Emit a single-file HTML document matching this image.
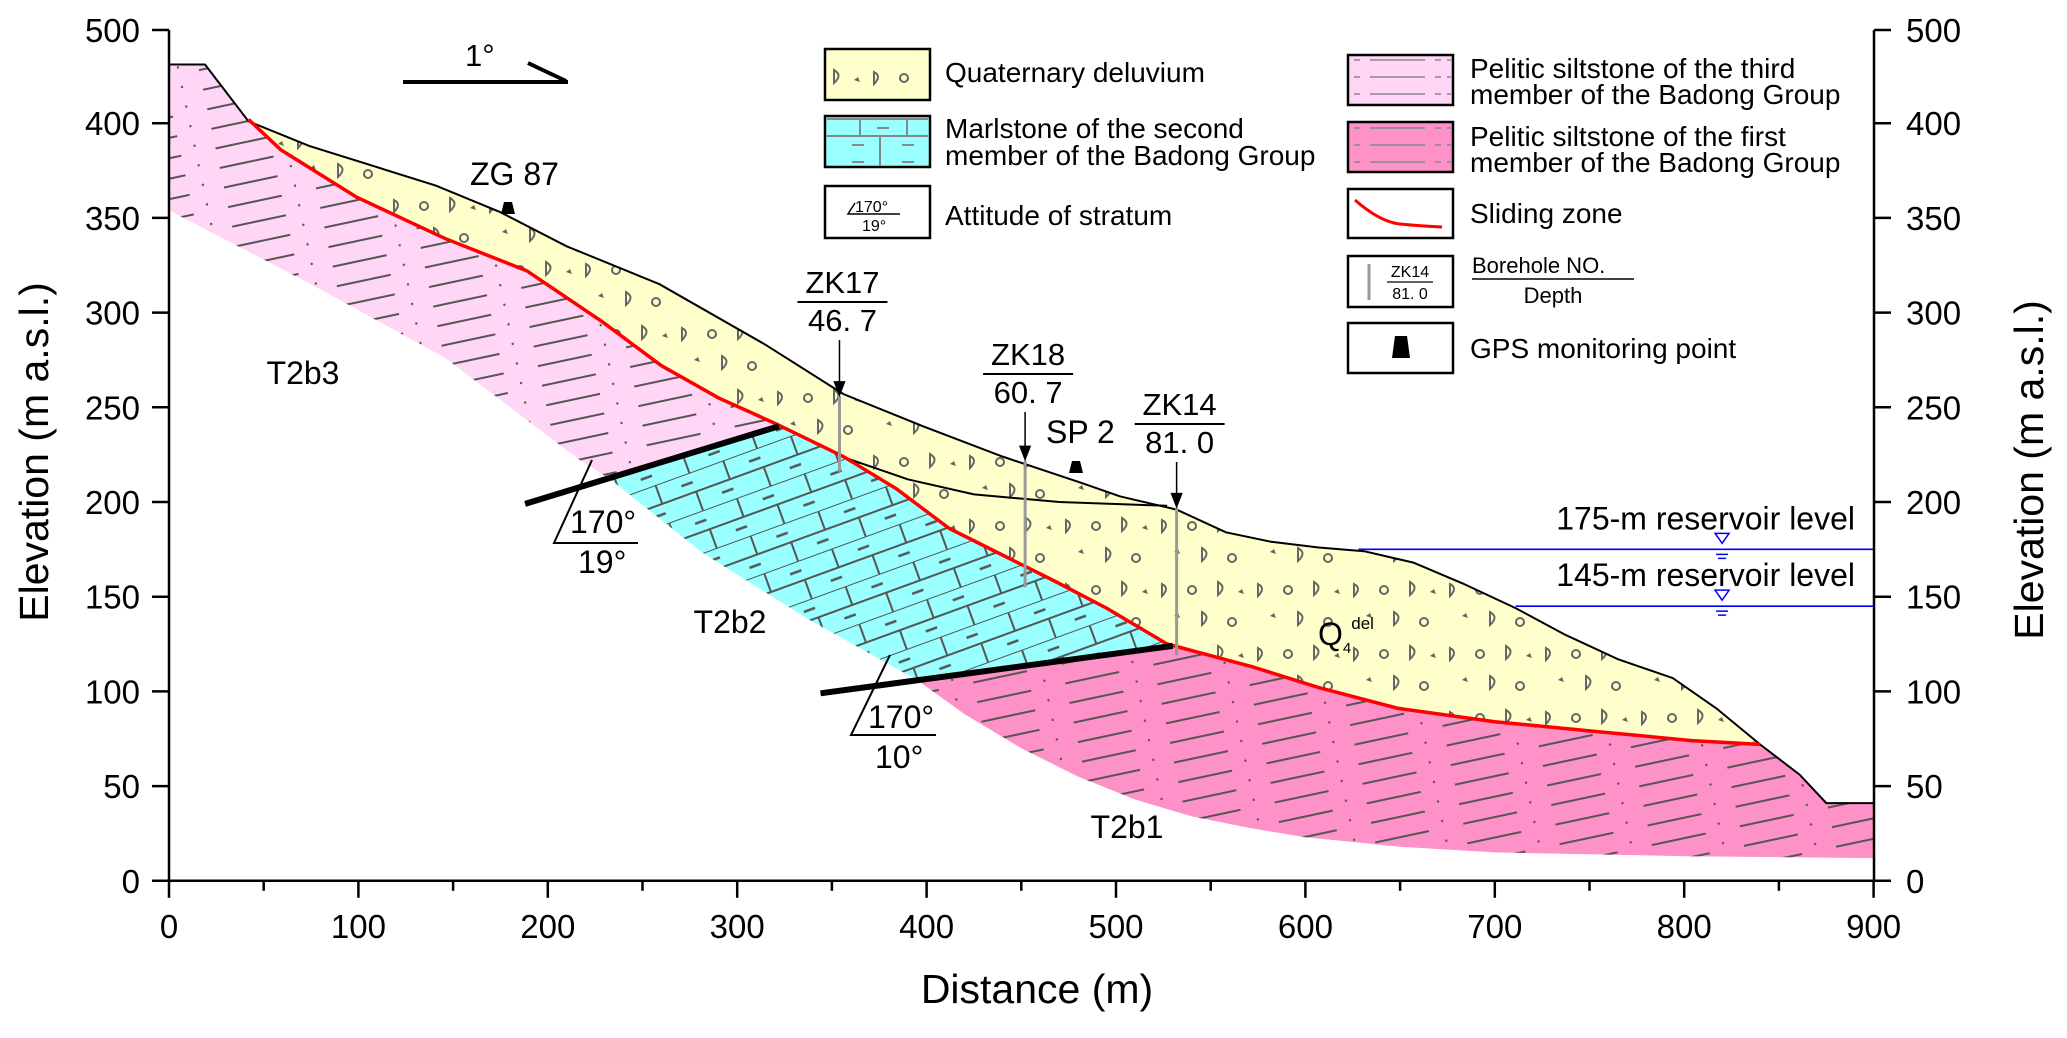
<!DOCTYPE html>
<html><head><meta charset="utf-8"><style>
html,body{margin:0;padding:0;background:#fff;}
svg{display:block;font-family:"Liberation Sans",Arial,sans-serif;}
</style></head><body>
<svg id="chart" width="2067" height="1038" viewBox="0 0 2067 1038" xmlns="http://www.w3.org/2000/svg">
<defs>
<pattern id="patQ" patternUnits="userSpaceOnUse" width="96" height="64">
 <path d="M10 8 q8 4 0 12 z" fill="none" stroke="#666" stroke-width="2"/>
 <circle cx="40" cy="14" r="4" fill="none" stroke="#666" stroke-width="2"/>
 <path d="M66 6 q9 5 0 13 z" fill="none" stroke="#666" stroke-width="2"/>
 <path d="M86 16 l4 -3 l2 5 z" fill="#666"/>
 <path d="M22 40 l4 -3 l2 5 z" fill="#666"/>
 <path d="M50 36 q9 5 0 13 z" fill="none" stroke="#666" stroke-width="2"/>
 <circle cx="80" cy="46" r="4" fill="none" stroke="#666" stroke-width="2"/>
</pattern>
<pattern id="patP" patternUnits="userSpaceOnUse" width="90" height="20" patternTransform="rotate(-12)">
 <line x1="0" y1="10" x2="55" y2="10" stroke="#555" stroke-width="2"/>
 <circle cx="70" cy="3" r="1.2" fill="#555"/>
</pattern>
<pattern id="patB" patternUnits="userSpaceOnUse" width="72" height="40" patternTransform="rotate(-20)">
 <path d="M0 0 H72 M0 20 H72 M18 0 V20 M54 20 V40" stroke="#555" stroke-width="2" fill="none"/>
 <path d="M42 10 H54 M6 30 H18" stroke="#555" stroke-width="2.5"/>
</pattern>
<pattern id="patPL" patternUnits="userSpaceOnUse" width="105" height="17">
 <line x1="5" y1="9" x2="60" y2="9" stroke="#888" stroke-width="1.5"/>
 <line x1="70" y1="9" x2="100" y2="9" stroke="#888" stroke-width="1.5" stroke-dasharray="6 6"/>
</pattern>
<pattern id="patBL" patternUnits="userSpaceOnUse" width="104" height="51">
 <path d="M0 17 H104 M0 34 H104 M48 0 V17 M28 17 V34 M75 17 V34 M48 34 V51" stroke="#888" stroke-width="2" fill="none"/>
 <path d="M20 9 H32 M70 9 H82 M45 26 H57 M20 43 H32 M70 43 H82" stroke="#888" stroke-width="2"/>
</pattern>
</defs>
<g id="plot"></g>
</svg>
<script>
// ---- data (distance m, elevation m) ----
const groundD = [0,19,42,74,141,175,210,259,315,356,398,440,482,502,532,558,582,607,631,657,683,711,737,765,794,817,840,861,875,900];
const groundE = [431,431,401,388,367,353,335,315,283,257,240,224,210,203,196,184,179,176,174,168,157,144,130,117,107,91,72,56,41,41];
const slideD = [42,59,99,146,189,229,260,290,321,356,384,412,440,468,495,527,572,607,649,700,752,804,840];
const slideE = [402,386,361,339,322,295,272,255,241,224,207,186,172,158,144,125,113,102,91,84,79,74,72];
const t2b3BaseD = [0,75,146,217,233];
const t2b3BaseE = [354,315,276,222,212];
const t2b2EdgeD = [233,282,336,395];
const t2b2EdgeE = [212,173,139,106];
const t2b1BaseD = [395,420,450,480,510,540,570,600,650,700,800,900];
const t2b1BaseE = [106,88,70,55,43,34,28,23,18,15,13,12];
const innerD = [358,390,425,470,527];
const innerE = [223,212,204,200,198];
const contact1D = [188,322], contact1E = [199,240];
const contact2D = [344,530], contact2E = [99,124];
const boreNames = ["ZK17","ZK18","ZK14"];
const boreD = [354,452,532];
const boreDepth = ["46. 7","60. 7","81. 0"];
const boreTopE = [256,222,197];
const boreBotE = [216,155,119];
const resLevels = [175,145];
const resStartD = [628,711];
const yTicks = [0,50,100,150,200,250,300,350,400];
const xTicks = [0,100,200,300,400,500,600,700,800,900];

const X = d => 169 + d*1.894;
const Y = e => 880.8 - e*1.894;
const NS = "http://www.w3.org/2000/svg";
const plot = document.getElementById('plot');
function mk(tag, attrs, parent){ const el=document.createElementNS(NS,tag); for(const k in attrs) el.setAttribute(k,attrs[k]); (parent||plot).appendChild(el); return el; }
function pts(D,E){ return D.map((d,i)=>X(d).toFixed(1)+','+Y(E[i]).toFixed(1)); }
function rev(a){ return a.slice().reverse(); }

let p = [];
p = p.concat(pts(groundD.slice(0,3),groundE.slice(0,3)));
p = p.concat(pts(slideD.slice(1,9),slideE.slice(1,9)));
p = p.concat(pts([233],[212]));
p = p.concat(pts(rev(t2b3BaseD),rev(t2b3BaseE)));
let el = mk('polygon',{points:p.join(' '),fill:'#ffd6f6'});


el = mk('polygon',{points:p.join(' '),fill:'url(#patP)'});



p = pts([233],[212]).concat(pts(slideD.slice(8,16),slideE.slice(8,16))).concat(pts([395],[106])).concat(pts(rev(t2b2EdgeD),rev(t2b2EdgeE)));
el = mk('polygon',{points:p.join(' '),fill:'#99ffff'});


el = mk('polygon',{points:p.join(' '),fill:'url(#patB)'});



p = pts([395],[106]).concat(pts(slideD.slice(15),slideE.slice(15))).concat(pts(groundD.slice(27),groundE.slice(27))).concat(pts(rev(t2b1BaseD),rev(t2b1BaseE)));
el = mk('polygon',{points:p.join(' '),fill:'#fd91c8'});


el = mk('polygon',{points:p.join(' '),fill:'url(#patP)'});



p = pts(groundD.slice(2,27),groundE.slice(2,27)).concat(pts(rev(slideD),rev(slideE)));
el = mk('polygon',{points:p.join(' '),fill:'#ffffcc'});


el = mk('polygon',{points:p.join(' '),fill:'url(#patQ)'});



el = mk('polyline',{points:pts(groundD,groundE).join(' '),fill:'none',stroke:'#000','stroke-width':2});


el = mk('polyline',{points:pts(innerD,innerE).join(' '),fill:'none',stroke:'#000','stroke-width':2});


el = mk('polyline',{points:pts(slideD,slideE).join(' '),fill:'none',stroke:'#ff0000','stroke-width':3.5});


el = mk('polyline',{points:pts(contact1D,contact1E).join(' '),fill:'none',stroke:'#000','stroke-width':6});


el = mk('polyline',{points:pts(contact2D,contact2E).join(' '),fill:'none',stroke:'#000','stroke-width':6});



const resLabels = ["175-m reservoir level","145-m reservoir level"];
resLevels.forEach((lv,i)=>{
  let l = mk('line',{x1:X(resStartD[i]),x2:X(900),y1:Y(lv),y2:Y(lv),stroke:'#0000ff','stroke-width':1.6});
  
  
  const cx = X(820), cy = Y(lv);
  let t = mk('path',{d:`M${cx-7} ${cy-16} H${cx+7} L${cx} ${cy-6} Z M${cx-6} ${cy+5} H${cx+6} M${cx-4} ${cy+9} H${cx+4}`,fill:'none',stroke:'#0000ff','stroke-width':1.5});
  
  
  let tx = mk('text',{x:1855,y:Y(lv)-20,'font-size':32,'text-anchor':'end'});
  tx.textContent = resLabels[i];
  
  
});

const labelBase = [293,365,415];
boreD.forEach((d,i)=>{
  const x=X(d);
  let b = mk('line',{x1:x,x2:x,y1:Y(boreTopE[i]),y2:Y(boreBotE[i]),stroke:'#999','stroke-width':3});
  
  
  const lb = labelBase[i];
  let t1 = mk('text',{x:x+3,y:lb,'font-size':31,'text-anchor':'middle'}); t1.textContent=boreNames[i];
  
  
  let ln = mk('line',{x1:x-42,x2:x+48,y1:lb+9,y2:lb+9,stroke:'#000','stroke-width':2});
  
  
  let t2 = mk('text',{x:x+3,y:lb+38,'font-size':31,'text-anchor':'middle'}); t2.textContent=boreDepth[i];
  
  
  const ay = Y(boreTopE[i]);
  let a = mk('path',{d:`M${x} ${lb+47} V${ay-2} M${x-5} ${ay-14} L${x} ${ay-1} L${x+5} ${ay-14} Z`,stroke:'#000','stroke-width':1.5,fill:'#000'});
  
  
});

const ax = mk('g',{stroke:'#000','stroke-width':2.5,fill:'none'});


mk('line',{x1:169,x2:169,y1:30,y2:Y(0)},ax);
mk('line',{x1:1874,x2:1874,y1:30,y2:Y(0)},ax);
mk('line',{x1:152,x2:1891,y1:Y(0),y2:Y(0)},ax);
mk('line',{x1:152,x2:169,y1:30,y2:30},ax);
mk('line',{x1:1874,x2:1891,y1:30,y2:30},ax);
function lbl(x,y,s,anchor,name){ const t=mk('text',{x:x,y:y,'font-size':33,'text-anchor':anchor}); t.textContent=s;   return t; }
lbl(140,42,'500','end','y-tick-label');
lbl(1906,42,'500','start','y-tick-label');
yTicks.forEach(v=>{
  const y=Y(v);
  mk('line',{x1:152,x2:169,y1:y,y2:y},ax);
  mk('line',{x1:1874,x2:1891,y1:y,y2:y},ax);
  lbl(140,y+12,String(v),'end','y-tick-label');
  lbl(1906,y+12,String(v),'start','y-tick-label-right');
});
xTicks.forEach((v,i)=>{
  const x=X(v);
  mk('line',{x1:x,x2:x,y1:Y(0),y2:Y(0)+17},ax);
  if(i<xTicks.length-1) mk('line',{x1:X(v+50),x2:X(v+50),y1:Y(0),y2:Y(0)+10},ax);
  lbl(x,938,String(v),'middle','x-tick-label');
});
</script>
<svg width="2067" height="1038" style="position:absolute;left:0;top:0" xmlns="http://www.w3.org/2000/svg" font-family="Liberation Sans, Arial, sans-serif">
<text x="1037" y="1003" font-size="41" text-anchor="middle">Distance (m)</text>
<text transform="translate(48,452) rotate(-90)" font-size="41" text-anchor="middle">Elevation (m  a.s.l.)</text>
<text transform="translate(2043,470) rotate(-90)" font-size="41" text-anchor="middle">Elevation (m  a.s.l.)</text>
<g><line x1="403" y1="82" x2="568" y2="82" stroke="#000" stroke-width="4"/><line x1="528" y1="63" x2="566" y2="81" stroke="#000" stroke-width="4"/><text x="465" y="66" font-size="31">1°</text></g>
<text x="470" y="185" font-size="32">ZG 87</text>
<path d="M504 202 h8 l3 12 h-14 z" fill="#000"/>
<text x="1046" y="443" font-size="32">SP 2</text>
<path d="M1072 461 h8 l3 12 h-14 z" fill="#000"/>
<text x="303" y="384" font-size="32" text-anchor="middle">T2b3</text>
<text x="730" y="633" font-size="32" text-anchor="middle">T2b2</text>
<text x="1127" y="838" font-size="32" text-anchor="middle">T2b1</text>
<text x="1318" y="645" font-size="32">Q<tspan font-size="15" dy="8">4</tspan><tspan font-size="17" dy="-24">del</tspan></text>
<g><path d="M592 460 L554 543 H638" stroke="#000" stroke-width="2" fill="none"/><text x="570" y="533" font-size="32">170°</text><text x="578" y="573" font-size="32">19°</text></g>
<g><path d="M890 655 L851 735 H936" stroke="#000" stroke-width="2" fill="none"/><text x="868" y="728" font-size="32">170°</text><text x="875" y="768" font-size="32">10°</text></g>
<g font-size="28">
 <g><rect x="825" y="49" width="105" height="51" fill="#ffffcc" stroke="#000" stroke-width="2.5"/><rect x="827" y="51" width="101" height="47" fill="url(#patQ)"/><text x="945" y="82">Quaternary  deluvium</text></g>
 <g><rect x="825" y="116" width="105" height="51" fill="#99ffff" stroke="#000" stroke-width="2.5"/><rect x="827" y="117" width="101" height="49" fill="url(#patBL)"/><text x="945" y="138">Marlstone of the second</text><text x="945" y="165">member of the Badong Group</text></g>
 <g><rect x="825" y="186" width="105" height="52" fill="#fff" stroke="#000" stroke-width="2.5"/><path d="M855 203 L848 214 H900" stroke="#000" stroke-width="1.5" fill="none"/><text x="855" y="212" font-size="16">170°</text><text x="862" y="231" font-size="16">19°</text><text x="945" y="225">Attitude of stratum</text></g>
 <g><rect x="1348" y="55" width="105" height="50" fill="#ffd6f6" stroke="#000" stroke-width="2.5"/><rect x="1350" y="57" width="101" height="46" fill="url(#patPL)"/><text x="1470" y="78">Pelitic siltstone of the third</text><text x="1470" y="104">member of the Badong Group</text></g>
 <g><rect x="1348" y="122" width="105" height="50" fill="#fd91c8" stroke="#000" stroke-width="2.5"/><rect x="1350" y="124" width="101" height="46" fill="url(#patPL)"/><text x="1470" y="146">Pelitic siltstone of the first</text><text x="1470" y="172">member of the Badong Group</text></g>
 <g><rect x="1348" y="189" width="105" height="49" fill="#fff" stroke="#000" stroke-width="2.5"/><path d="M1355 200 Q1380 222 1400 224 Q1420 226 1442 227" stroke="#ff0000" stroke-width="3" fill="none"/><text x="1470" y="223">Sliding zone</text></g>
 <g><rect x="1348" y="256" width="105" height="51" fill="#fff" stroke="#000" stroke-width="2.5"/><line x1="1369" y1="264" x2="1369" y2="300" stroke="#999" stroke-width="3"/><text x="1410" y="277" font-size="16" text-anchor="middle">ZK14</text><line x1="1387" y1="282" x2="1433" y2="282" stroke="#000" stroke-width="1.2"/><text x="1410" y="299" font-size="16" text-anchor="middle">81. 0</text><text x="1472" y="273" font-size="22">Borehole  NO.</text><line x1="1472" y1="279" x2="1634" y2="279" stroke="#000" stroke-width="1.5"/><text x="1553" y="303" font-size="22" text-anchor="middle">Depth</text></g>
 <g><rect x="1348" y="323" width="105" height="50" fill="#fff" stroke="#000" stroke-width="2.5"/><path d="M1395 336 h12 l3 22 h-18 z" fill="#000"/><text x="1470" y="358">GPS monitoring point</text></g>
</g>
</svg>
</body></html>
